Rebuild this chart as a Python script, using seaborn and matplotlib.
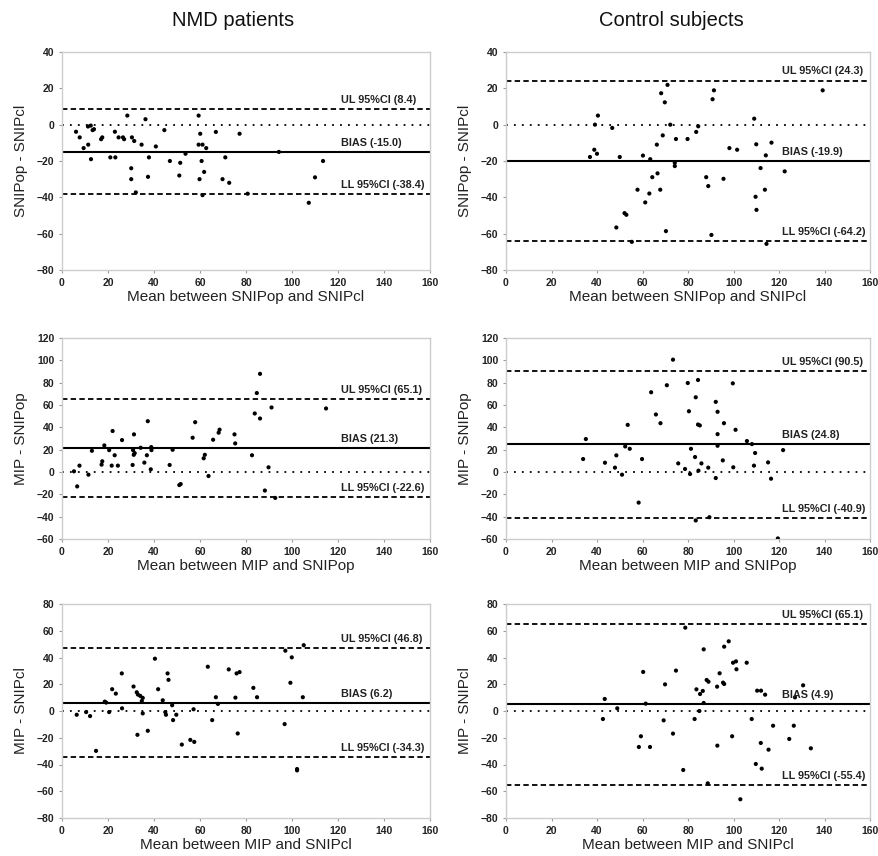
import matplotlib
matplotlib.use("Agg")
import matplotlib.pyplot as plt
import seaborn as sns
import pandas as pd

# ---------------- data ----------------
col_titles = ["NMD patients", "Control subjects"]
y_labels = ["SNIPop - SNIPcl", "MIP - SNIPop", "MIP - SNIPcl"]
x_labels = ["Mean between SNIPop and SNIPcl", "Mean between MIP and SNIPop", "Mean between MIP and SNIPcl"]
x_ticks = [0, 20, 40, 60, 80, 100, 120, 140, 160]
y_ticks_row = [[-80, -60, -40, -20, 0, 20, 40],
               [-60, -40, -20, 0, 20, 40, 60, 80, 100, 120],
               [-80, -60, -40, -20, 0, 20, 40, 60, 80]]

# NMD: SNIPop - SNIPcl
nmd1_x = [6.1, 7.7, 9.4, 11.3, 12.5, 13.3, 13.9, 11.4, 12.6, 17, 17.5, 21, 23.2, 23, 24.6, 26.5, 27, 28.4,
          30.1, 30.1, 30.4, 31.4, 32.1, 34.6, 36.3, 37.4, 37.8, 40.8, 44.5, 46.9, 51, 51.4, 53.7, 59.4,
          59.4, 60.1, 59.8, 60.7, 61.1, 61.1, 61.8, 62.7, 66.9, 69.8, 71, 72.7, 77.2, 80.7, 94.3, 107.3,
          110, 113.5]
nmd1_y = [-3.9, -7, -12.9, -1, -0.5, -3, -2.5, -11, -19, -8, -7, -18, -18, -3.9, -7, -7, -8, 5,
          -24, -30, -7, -9, -37.3, -11, 3, -28.7, -18, -12, -3, -20, -28, -21, -16, 5,
          -11, -5, -30, -20, -11, -38.8, -26, -12.9, -4, -30, -18, -32, -5, -38, -15, -43,
          -29, -20]
# Control: SNIPop - SNIPcl
ctl1_x = [36.9, 38.8, 40, 39.1, 40.4, 46.7, 48.5, 50, 52.1, 52.9, 55.3, 57.8, 60.2, 61.2, 63, 63.4, 64.3,
          66.3, 66.6, 67.8, 68.2, 68.9, 69.8, 70.3, 71, 72.2, 74.2, 74.2, 74.7, 79.8, 83.6, 84.5, 88,
          88.9, 90.3, 90.8, 91.4, 95.6, 98.2, 101.6, 109.1, 109.7, 110, 110.1, 111.9, 113.8, 114.2,
          114.5, 116.7, 122.5, 139.2]
ctl1_y = [-17.8, -13.8, -16, 0, 5, -1.8, -56.6, -17.8, -48.7, -49.6, -64.5, -35.8, -17, -42.8, -37.9, -19,
          -28.9, -11, -26.8, -35.8, 17.3, -5.9, 12.3, -58.6, 21.9, 0, -21, -22.8, -7.9, -7.9, -4, -0.9,
          -28.9, -33.8, -60.7, 14, 18.9, -29.8, -12.9, -13.8, 3.3, -39.7, -10.8, -46.9, -23.9, -35.8,
          -16.9, -65.6, -9.9, -25.7, 18.9]
# NMD: MIP - SNIPop
nmd2_x = [5.2, 6.6, 7.6, 11.5, 13, 17.2, 17.5, 18.4, 20.5, 21.6, 22, 22.9, 24.3, 26.1, 30.7, 30.9, 31.2,
          31.6, 31.3, 34.2, 35.8, 36.9, 37.3, 38.6, 38.8, 38.9, 46.8, 48.1, 51, 51.6, 56.8, 57.9, 61.6,
          62.1, 63.7, 65.7, 68.1, 68.5, 75, 75.3, 82.6, 83.8, 84.7, 86.1, 86.1, 88.2, 89.8, 91.1, 92.7,
          114.8]
nmd2_y = [0.6, -12.9, 5.7, -2.4, 19, 6.6, 9.6, 23.8, 19.6, 5.7, 36.7, 15, 5.7, 28.6, 6.3, 19.6, 15.4,
          16.9, 33.7, 21.7, 8.4, 15, 45.5, 2.4, 22.3, 19.6, 6.3, 19.9, -11.7, -10.8, 30.7, 44.6, 12.3,
          15.4, -3.6, 28.9, 35.2, 37.9, 33.7, 25.6, 15, 52.4, 70.7, 47.9, 87.9, -16.6, 4.2, 57.8, -23.2,
          56.9]
# Control: MIP - SNIPop
ctl2_x = [33.9, 35.1, 43.5, 47.9, 48.5, 51, 52.4, 53.5, 54.4, 58.3, 59.8, 63.8, 65.9, 67.9, 70.7, 73.4,
          75.7, 78.7, 79.9, 80.4, 80.9, 81.3, 83.1, 83.4, 83.4, 84.4, 84.4, 85.2, 84.6, 85.9, 88.9, 89.4,
          92.2, 92.2, 93, 93, 93, 95.3, 95.8, 99.7, 99.9, 100.9, 105.9, 108.1, 109, 109.5, 115.2, 116.5,
          119.5, 121.8]
ctl2_y = [11.6, 29.5, 8.3, 3.9, 14.9, -2.4, 22.9, 42.2, 20.8, -27.4, 11.6, 71.4, 51.5, 43.7, 77.7, 100.6,
          7.7, 2.7, 79.7, 54.4, -1.8, 20.8, 13.4, 66.9, -43.4, 82.4, 42.5, 41.7, 1.2, 7.7, 3.9, -40.5,
          -5.4, 62.8, 53.9, 33.9, 23.5, 10.4, 43.7, 79.4, 4.2, 37.8, 27.7, 25, 5.7, 17, 8.6, -6,
          -59.5, 19.6]
# NMD: MIP - SNIPcl
nmd3_x = [6.4, 10.5, 12.2, 14.8, 18.6, 19.2, 20.5, 21.8, 23.4, 26, 26.1, 31.1, 32.5, 33, 34, 35.1, 32.8,
          34.7, 35.1, 37.3, 40.4, 41.8, 43.8, 44.9, 45.2, 45.9, 46.3, 47.9, 48.3, 49.7, 52.1, 55.8, 57.5,
          57.2, 63.4, 65.3, 66.9, 67.8, 72.5, 75.4, 75.9, 77.2, 76.4, 83.2, 84.8, 96.8, 97.1, 99.3, 99.9,
          102.2, 102.2, 104.7, 105.1]
nmd3_y = [-2.8, -0.8, -3.8, -29.8, 7, 6.3, -0.8, 16.3, 13, 28.1, 2, 18.3, 14, 12.3, 11.3, 9.8, -17.8,
          7.5, -1.8, -14.8, 39.1, 16.3, 8, -0.8, -2.8, 28.1, 23.3, 4.3, -6.8, -2.8, -25.1, -21.6, -23.1,
          1.3, 33.1, -6.8, 10.3, 5.3, 31.1, 10, 28.1, 29.1, -16.8, 17.3, 10.3, -9.8, 45.1, 21.1, 40.1,
          -43.4, -44.4, 10.3, 49.2]
# Control: MIP - SNIPcl
ctl3_x = [42.6, 43.4, 48.9, 58.4, 59.3, 60.3, 61.4, 63.3, 69.3, 69.9, 73.4, 74.7, 77.9, 78.8, 82.9, 83.7,
          85.3, 86.5, 85, 86.9, 86.9, 88.2, 89, 88.7, 92.8, 92.9, 93.9, 95.4, 95.9, 95.9, 97.9, 99.4,
          99.8, 101.1, 101.3, 103, 105.8, 108, 109.8, 110.4, 112.1, 112, 112.4, 113.9, 115.4, 117.4,
          124.5, 126.5, 127, 130.6, 134]
ctl3_y = [-6, 9, 2, -26.9, -18.9, 29.2, 5.5, -26.9, -7, 19.9, -16.9, 30.2, -44.1, 62.3, -6, 16.2,
          12.7, 15, 0, 46.1, 6, 23.2, 21.9, -54.1, 18.2, -25.9, 28.2, 21.2, 20.2, 48.1, 52.1, -18.9,
          36.1, 37.1, 31.2, -66, 36.1, -6, -39.6, 15.2, 15.2, -23.9, -43.1, 12.2, -28.9, -11,
          -20.9, -11, 10.2, 19.2, -27.9]

upper_limits = [[8.4, 24.3], [65.1, 90.5], [46.8, 65.1]]
biases = [[-15.0, -19.9], [21.3, 24.8], [6.2, 4.9]]
lower_limits = [[-38.4, -64.2], [-22.6, -40.9], [-34.3, -55.4]]

panel_x = [[nmd1_x, ctl1_x], [nmd2_x, ctl2_x], [nmd3_x, ctl3_x]]
panel_y = [[nmd1_y, ctl1_y], [nmd2_y, ctl2_y], [nmd3_y, ctl3_y]]

# ---------------- figure ----------------
sns.set_theme(style="white")
plt.rcParams["font.family"] = ["Liberation Sans", "DejaVu Sans"]

W, H = 879, 856
fig = plt.figure(figsize=(W / 100, H / 100), dpi=100)

col_px = [(62, 430), (506, 870)]
row_px = [(52, 270), (338, 539), (604, 818)]

for r in range(3):
    for c in range(2):
        x0, x1 = col_px[c]
        t, b = row_px[r]
        ax = fig.add_axes([x0 / W, 1 - b / H, (x1 - x0) / W, (b - t) / H])
        df = pd.DataFrame({"x": panel_x[r][c], "y": panel_y[r][c]})
        sns.scatterplot(data=df, x="x", y="y", ax=ax, color="black", s=9,
                        edgecolor="none", linewidth=0, zorder=3)
        ax.axhline(0, color="black", lw=1.3, dashes=(1.0, 3.4), zorder=2)
        ax.axhline(biases[r][c], color="black", lw=1.5, zorder=2)
        ax.axhline(upper_limits[r][c], color="black", lw=1.3, dashes=(3, 1.8), zorder=2)
        ax.axhline(lower_limits[r][c], color="black", lw=1.3, dashes=(3, 1.8), zorder=2)

        for val, lab in [(upper_limits[r][c], "UL 95%CI"), (biases[r][c], "BIAS"),
                         (lower_limits[r][c], "LL 95%CI")]:
            txt = f"{lab} ({val:.1f})"
            ax.annotate(txt, xy=(121.5, val), xytext=(0, 3), textcoords="offset points",
                        ha="left", va="bottom", fontsize=7.8, fontweight="bold", color="#222222")

        yt = y_ticks_row[r]
        ax.set_xlim(0, 160)
        ax.set_ylim(yt[0], yt[-1])
        ax.set_xticks(x_ticks)
        ax.set_yticks(yt)
        ax.tick_params(axis="both", which="major", length=2.5, width=0.8, color="#999999",
                       labelsize=7.5, labelcolor="#222222", pad=3, direction="out",
                       bottom=True, left=True)
        for lab in ax.get_xticklabels() + ax.get_yticklabels():
            lab.set_fontweight("bold")
        for sp in ax.spines.values():
            sp.set_color("#cccccc")
            sp.set_linewidth(1.0)
        ax.set_xlabel(x_labels[r], fontsize=11, color="#222222", labelpad=2)
        ax.set_ylabel(y_labels[r], fontsize=11, color="#222222")
        ax.yaxis.set_label_coords(-0.093, 0.5)

fig.text(233 / W, 1 - 26 / H, col_titles[0], ha="center", va="baseline", fontsize=14.5, color="#111111")
fig.text(671 / W, 1 - 26 / H, col_titles[1], ha="center", va="baseline", fontsize=14.5, color="#111111")

fig.savefig("out.png", dpi=100)
